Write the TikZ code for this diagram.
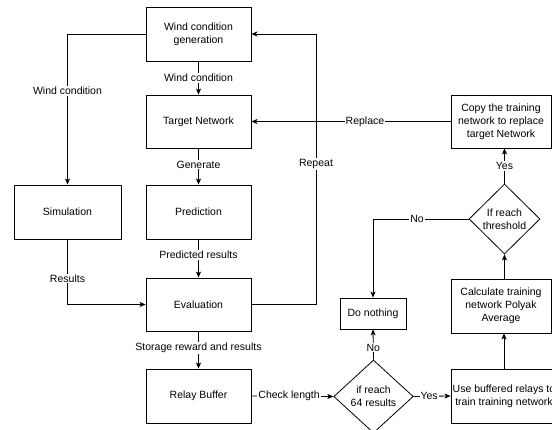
\documentclass[tikz,border=0pt]{standalone}
\usepackage{fontspec}
\setmainfont{Liberation Sans}
\usetikzlibrary{shapes.geometric,arrows.meta}
\begin{document}
\begin{tikzpicture}[x=1pt,y=-1pt,
 every node/.style={font=\fontsize{10.5}{13}\selectfont, text=black},
 box/.style={draw, line width=0.8pt, align=center, inner sep=0pt, minimum width=105pt, minimum height=54pt},
 dia/.style={draw, diamond, line width=0.8pt, align=center, inner sep=0pt},
 arr/.style={-{Stealth[length=6pt,width=5pt,inset=1.5pt]}, line width=0.8pt},
 lbl/.style={fill=white, inner sep=1pt}]
\path[use as bounding box, clip] (0,0) rectangle (552,430);

\node[box] (wcg) at (198.5,34) {Wind condition\\generation};
\node[box, minimum height=53pt] (tn) at (198.5,121.5) {Target Network};
\node[box] (pred) at (198.5,212) {Prediction};
\node[box, minimum width=107pt] (sim) at (67.5,212) {Simulation};
\node[box, minimum height=53pt] (eval) at (198.5,304.5) {Evaluation};
\node[box] (relay) at (198.5,396) {Relay Buffer};
\node[box, minimum width=100pt, minimum height=53pt] (copy) at (501,121.5) {Copy the training\\network to replace\\target Network};
\node[box, minimum width=100pt] (calc) at (501,306) {Calculate training\\network Polyak\\Average};
\node[box, minimum width=106pt] (use) at (504,396) {Use buffered relays to\\train training network};
\node[box, minimum width=66pt, minimum height=31pt] (nothing) at (373,313.5) {Do nothing};
\node[dia, minimum width=71pt, minimum height=70pt] (thr) at (504.5,219) {If reach\\threshold};
\node[dia, minimum width=79.5pt, minimum height=73pt] (r64) at (373.5,396.5) {if reach\\64 results};

\coordinate (rep) at (316,34);

\draw[arr] (wcg.west) -| node[lbl, pos=0.69] {Wind condition} (sim.north);
\draw[arr] (wcg.south) -- node[lbl] {Wind condition} (tn.north);
\draw[arr] (tn.south) -- node[lbl, pos=0.45] {Generate} (pred.north);
\draw[arr] (pred.south) -- node[lbl, pos=0.4] {Predicted results} (eval.north);
\draw[arr] (eval.south) -- node[lbl, pos=0.45] {Storage reward and results} (relay.north);
\draw[arr] (sim.south) |- node[lbl, pos=0.3] {Results} (eval.west);
\draw[arr] (eval.east) -| node[lbl, pos=0.76] {Repeat} (rep) -- (wcg.east);
\draw[arr] (copy.west) -- node[lbl, pos=0.43] {Replace} (tn.east);
\draw[arr] (thr.north) -- node[lbl, pos=0.5] {Yes} (thr.north |- copy.south);
\draw[arr] (thr.west) -| node[lbl, pos=0.27] {No} (nothing.north);
\draw[arr] (thr.south |- calc.north) -- (thr.south);
\draw[arr] (use.north) -- (use.north |- calc.south);
\draw[arr] (r64.north) -- node[lbl, pos=0.4] {No} (nothing.south);
\draw[arr] (relay.east) -- node[lbl, pos=0.46] {Check length} (r64.west);
\draw[arr] (r64.east) -- node[lbl, pos=0.42] {Yes} (use.west);
\end{tikzpicture}
\end{document}
